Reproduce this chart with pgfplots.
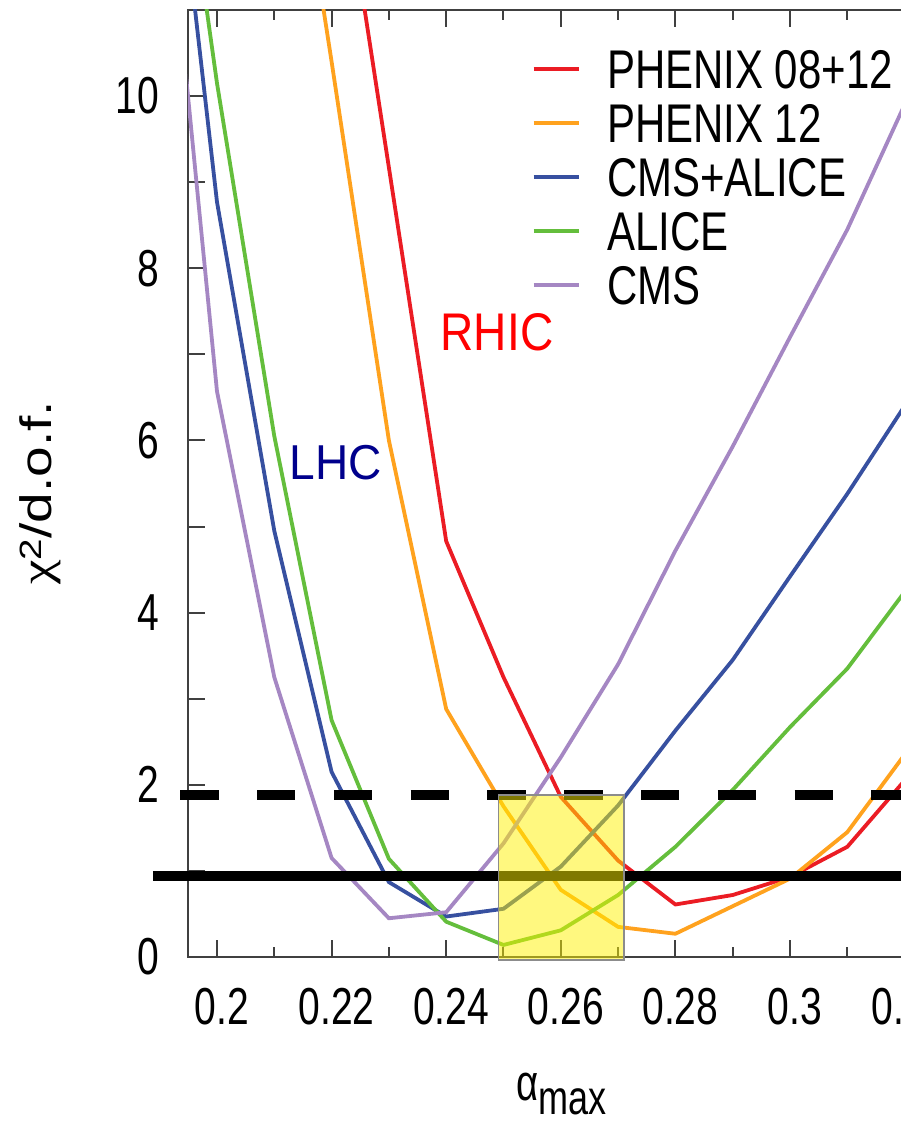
\documentclass[border=0pt]{standalone}
\usepackage{fontspec}
\usepackage{graphicx}
\usepackage{pgfplots}
\usepackage{pgfplotstable}
\pgfplotsset{compat=1.18}
\setmainfont{Liberation Sans}
\newfontfamily\condfont[FakeStretch=0.75]{Liberation Sans}
\newfontfamily\legfont[FakeStretch=0.77]{Liberation Sans}
\newfontfamily\chifont{Liberation Serif}

\definecolor{cRed}{RGB}{235,28,36}
\definecolor{cOrange}{RGB}{255,162,30}
\definecolor{cBlue}{RGB}{55,80,160}
\definecolor{cGreen}{RGB}{100,190,60}
\definecolor{cPurple}{RGB}{165,135,195}
\definecolor{cNavy}{RGB}{0,0,140}
\definecolor{cRhic}{RGB}{255,0,0}
\definecolor{cFrame}{RGB}{64,64,64}

% chi^2/d.o.f. versus alpha_max for each data set
\pgfplotstableread{
x     phA    phB    cmsal  alice  cms
0.19  nan    nan    14.6   14.9   13.35
0.20  nan    nan    8.77   10.15  6.57
0.21  nan    14.7   4.95   6.05   3.25
0.22  13.5   10.4   2.15   2.75   1.15
0.23  9.17   6.0    0.87   1.14   0.45
0.24  4.83   2.88   0.47   0.41   0.52
0.25  3.25   1.75   0.56   0.14   1.32
0.26  1.86   0.78   1.05   0.31   2.32
0.27  1.12   0.35   1.76   0.72   3.40
0.28  0.61   0.27   2.63   1.28   4.72
0.29  0.72   0.59   3.45   1.94   5.93
0.30  0.93   0.91   4.42   2.67   7.20
0.31  1.28   1.45   5.38   3.35   8.45
0.32  2.05   2.35   6.40   4.24   9.90
}\chidata

\begin{document}
\begin{tikzpicture}
\begin{axis}[
  scale only axis,
  width=773.9pt, height=947pt,
  xmin=0.19494, xmax=0.33, ymin=0, ymax=11,
  axis line style={draw=cFrame, line width=2pt},
  tick style={draw=cFrame, line width=2pt},
  major tick length=17pt, minor tick length=10pt,
  tick align=inside,
  xtick={0.2,0.22,0.24,0.26,0.28,0.3,0.32},
  minor xtick={0.19,0.21,0.23,0.25,0.27,0.29,0.31,0.33},
  ytick={0,1,2,3,4,5,6,7,8,9,10,11},
  yticklabels={0,,2,,4,,6,,8,,10,},
  /pgf/number format/assume math mode=true,
  xticklabel style={font=\condfont\fontsize{52pt}{52pt}\selectfont, inner sep=0pt,
    anchor=north, yshift=-31pt, xshift=5pt,
    /pgf/number format/fixed, /pgf/number format/precision=2},
  yticklabel style={font=\condfont\fontsize{52pt}{52pt}\selectfont, inner sep=0pt,
    anchor=east, xshift=-28.7pt},
  xlabel={α\fontsize{48pt}{48pt}\selectfont\raisebox{-13.7pt}{max}},
  xlabel style={font=\condfont\fontsize{51pt}{51pt}\selectfont,
    at={(0.4247,-0.1520)}, anchor=base west, inner sep=0pt},
  ylabel={\scalebox{1}[0.8]{{\chifont χ}\raisebox{3pt}{\textsuperscript{2}}/d.o.f.}},
  ylabel style={font=\fontsize{55pt}{55pt}\selectfont,
    at={(-0.1912,0.49)}, anchor=center, inner sep=0pt},
  legend style={draw=none, fill=none, inner sep=0pt, outer sep=0pt,
    at={(0.4441,0.9585)}, anchor=north west, row sep=15pt,
    font=\legfont\fontsize{54.5pt}{54.5pt}\selectfont,
    nodes={inner sep=0pt, text height=39pt, text depth=0pt},
    /tikz/every odd column/.append style={column sep=26.6pt}},
  legend cell align=left,
  legend image code/.code={\draw[#1] (0pt,0pt) -- (45pt,0pt);},
]
\addplot[cRed, line width=3.8pt] table[x=x, y=phA] {\chidata};
\addlegendentry{PHENIX 08+12}
\addplot[cOrange, line width=3.8pt] table[x=x, y=phB] {\chidata};
\addlegendentry{PHENIX 12}
\addplot[cBlue, line width=3.8pt] table[x=x, y=cmsal] {\chidata};
\addlegendentry{CMS+ALICE}
\addplot[cGreen, line width=3.8pt] table[x=x, y=alice] {\chidata};
\addlegendentry{ALICE}
\addplot[cPurple, line width=3.8pt] table[x=x, y=cms] {\chidata};
\addlegendentry{CMS}

\node[text=cRhic, font=\fontsize{53pt}{53pt}\selectfont, inner sep=0pt]
  at (axis cs:0.24887,7.254) {\scalebox{0.87}[1]{RHIC}};
\node[text=cNavy, font=\fontsize{49pt}{49pt}\selectfont, inner sep=0pt]
  at (axis cs:0.22077,5.747) {\scalebox{0.94}[1]{LHC}};

% reference levels and the preferred alpha_max window
\coordinate (SW) at (rel axis cs:0,0);
\coordinate (solidA) at (axis cs:0.18883,0.94);
\coordinate (solidB) at (axis cs:0.33,0.94);
\coordinate (dashA) at (axis cs:0.19359,1.88);
\coordinate (dashB) at (axis cs:0.33,1.88);
\coordinate (boxA) at (axis cs:0.24909,-0.035);
\coordinate (boxB) at (axis cs:0.27103,1.88);
\end{axis}

\draw[black, line width=10.7pt] (solidA) -- (solidB);
\draw[black, line width=10.7pt, dash pattern=on 38.3pt off 38.5pt] (dashA) -- (dashB);
\filldraw[fill=yellow, fill opacity=0.5, draw=black!45, line width=1.5pt] (boxA) rectangle (boxB);

\pgfresetboundingbox
\path[use as bounding box] (SW) ++(-188pt,-164pt) rectangle ++(901pt,1121pt);
\end{tikzpicture}
\end{document}
